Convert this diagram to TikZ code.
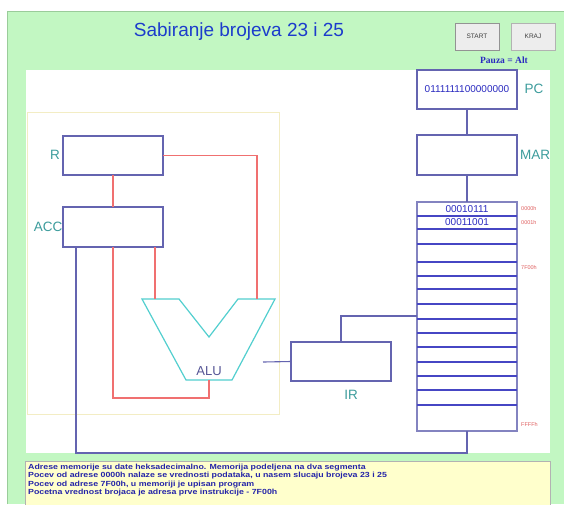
\documentclass[tikz,border=0pt]{standalone}
\usepackage{fontspec}
\setmainfont{Liberation Sans}
\newfontfamily\serifpart{Liberation Serif}
\usetikzlibrary{calc}
\definecolor{panelgreen}{HTML}{C2F7C2}
\definecolor{paneledge}{HTML}{9ACC9A}
\definecolor{boxblue}{HTML}{6464B0}
\definecolor{rowblue}{HTML}{4646C4}
\definecolor{wirered}{HTML}{F07070}
\definecolor{labelteal}{HTML}{3C9C9C}
\definecolor{alucyan}{HTML}{52CFCF}
\definecolor{valueblue}{HTML}{2A2AC0}
\definecolor{titleblue}{HTML}{1C3CCC}
\definecolor{addrred}{HTML}{E06060}
\definecolor{framey}{HTML}{F3EDC4}
\definecolor{notey}{HTML}{FFFFCC}
\definecolor{noteblue}{HTML}{2424A8}
\tikzset{
  reg/.style={draw=boxblue, line width=1.1pt, fill=white, minimum width=100pt,
    inner sep=0pt, outer sep=0pt},
  redwire/.style={draw=wirered, line width=1.4pt},
  bluewire/.style={draw=boxblue, line width=1.1pt},
  reglabel/.style={text=labelteal, font=\fontsize{13.5}{14}\selectfont, inner sep=0pt},
  addr/.style={text=addrred, font=\fontsize{5.5}{6}\selectfont, anchor=west, inner sep=0pt},
  memval/.style={text=valueblue, font=\fontsize{10}{10}\selectfont, inner sep=0pt},
  button/.style={fill=gray!14, draw=gray!60, line width=0.8pt, minimum width=44pt,
    minimum height=27pt, inner sep=0pt, font=\fontsize{6.5}{7}\selectfont, text=black!75},
  noteline/.style={anchor=west, inner sep=0pt, text=noteblue,
    font=\bfseries\fontsize{7.4}{8}\selectfont},
}
\newcommand{\widenote}[1]{\scalebox{1.19}[1]{#1}}
\begin{document}
\begin{tikzpicture}[x=1pt, y=-1pt]
\useasboundingbox (0,0) rectangle (564,504);
% panel and drawing area
\fill[white] (0,0) rectangle (564,504);
\fill[panelgreen] (7,11) rectangle (564,504);
\draw[paneledge, line width=0.8pt] (7,504) -- (7,11) -- (564,11);
\fill[white] (26,70) rectangle (550,453);
\draw[framey, line width=0.8pt] (27,112) rectangle (279,414);

% title and controls
\node[text=titleblue, font=\fontsize{19}{19}\selectfont] (title) at (239,32) {Sabiranje brojeva 23 i 25};
\node[button, draw=gray!85, line width=1pt] (start) at (477,36.5) {START};
\node[button] (kraj) at (533,36.5) {KRAJ};
\node[text=valueblue, font=\serifpart\bfseries\fontsize{9.5}{10}\selectfont, inner sep=0pt] (pauza) at (504,60) {Pauza = Alt};

% registers
\node[reg, minimum height=39pt] (R) at (113,155.5) {};
\node[reg, minimum height=40pt] (ACC) at (113,227) {};
\node[reg, minimum height=39pt, memval] (PC) at (467,89.5) {0111111100000000};
\node[reg, minimum height=40pt] (MAR) at (467,155) {};
\node[reg, minimum height=39pt] (IR) at (341,361.5) {};
\node[reg, minimum height=229pt, draw=boxblue!80] (mem) at (467,316.5) {};

\node[reglabel, anchor=east] (lR) at (60,155) {R};
\node[reglabel, anchor=east] (lACC) at (62.5,227) {ACC};
\node[reglabel] (lPC) at (534,89) {PC};
\node[reglabel] (lMAR) at (535,155) {MAR};
\node[reglabel] (lIR) at (351,395) {IR};

% memory rows
\foreach \yy in {216,229,244,262,276,289,304,319,333,347,362,376,390,405}
  \draw[rowblue, line width=1.1pt] (417,\yy) -- (517,\yy);
\node[memval] (m0) at (467,209) {00010111};
\node[memval] (m1) at (467,222.5) {00011001};
\node[addr] (a0) at (521,209) {0000h};
\node[addr] (a1) at (521,222.5) {0001h};
\node[addr] (a2) at (521,268) {7F00h};
\node[addr] (a3) at (521,424) {FFFFh};

% ALU
\coordinate (aluTL) at (142,299);
\coordinate (aluIL) at (179,299);
\coordinate (aluV) at (209,337);
\coordinate (aluIR) at (238,299);
\coordinate (aluTR) at (275,299);
\coordinate (aluBR) at (232,380);
\coordinate (aluBL) at (186,380);
\draw[alucyan, line width=1.2pt, line join=miter]
  (aluTL) -- (aluIL) -- (aluV) -- (aluIR) -- (aluTR) -- (aluBR) -- (aluBL) -- cycle;
\node[text=boxblue!85!black, font=\fontsize{13}{13}\selectfont, inner sep=0pt] (lALU) at (209,371) {ALU};
\coordinate (aluInA) at (155,299);
\coordinate (aluInB) at (257,299);
\coordinate (aluOut) at (209,380);

% data paths
\draw[redwire] (R.south) -- (ACC.north);
\draw[redwire] (R.east) -| (aluInB);
\draw[redwire] (ACC.south -| aluInA) -- (aluInA);
\draw[redwire] (ACC.south) -- (113,398) -| (aluOut);
\coordinate (busCorner) at (76,453);
\draw[bluewire] (ACC.south -| busCorner) -- (busCorner) -| (mem.south);
\coordinate (irIn) at (263,362);
\draw[bluewire] (irIn) -- (IR.west);
\coordinate (memTap) at (417,316);
\draw[bluewire] (IR.north) |- (memTap);
\draw[bluewire] (PC.south) -- (MAR.north);
\draw[bluewire] (MAR.south) -- (mem.north);

% notes
\draw[gray!60, fill=notey, line width=0.6pt] (25,461) rectangle (550,506);
\node[noteline] (n1) at (28,467.5) {\widenote{Adrese memorije su date heksadecimalno. Memorija podeljena na dva segmenta}};
\node[noteline] (n2) at (28,476) {\widenote{Pocev od adrese 0000h nalaze se vrednosti podataka, u nasem slucaju brojeva 23 i 25}};
\node[noteline] (n3) at (28,484.5) {\widenote{Pocev od adrese 7F00h, u memoriji je upisan program}};
\node[noteline] (n4) at (28,493) {\widenote{Pocetna vrednost brojaca je adresa prve instrukcije - 7F00h}};
\end{tikzpicture}
\end{document}
